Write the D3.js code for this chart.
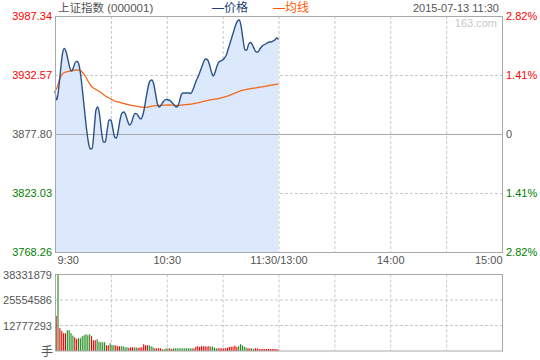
<!DOCTYPE html>
<html><head><meta charset="utf-8">
<script src="https://cdn.jsdelivr.net/npm/d3@7"></script>
<style>
html,body{margin:0;padding:0;background:#fff;}
svg{display:block;}
text{font-family:"Liberation Sans",Arial,"Noto Sans CJK SC",sans-serif;}
</style></head>
<body>
<svg id="chart" width="540" height="360"></svg>
<script>
// ---- data ----
const title = "上证指数 (000001)";
const dateLabel = "2015-07-13 11:30";
const legendNames = ["价格", "均线"];
const prevClose = 3877.80;
const priceTicks = [3987.34, 3932.57, 3877.80, 3823.03, 3768.26];
const pctTicks = ["2.82%", "1.41%", "0", "1.41%", "2.82%"];
const timeTickMinutes = [0, 60, 120, 180, 240];
const timeTickLabels = ["9:30", "10:30", "11:30/13:00", "14:00", "15:00"];
const volTicks = [38331879, 25554586, 12777293];
const volUnit = "手";

// one value per minute from 9:30
const price = [
3917.72,3909.36,3920.50,3937.21,3952.07,3957.17,3953.92,3946.50,3939.07,3936.28,
3940.00,3944.64,3945.10,3940.93,3929.79,3914.01,3897.30,3881.52,3869.45,3863.88,
3864.81,3881.52,3900.08,3902.87,3894.51,3879.66,3870.38,3870.38,3881.52,3890.80,
3890.80,3883.37,3875.02,3874.09,3881.52,3891.73,3897.30,3898.23,3895.44,3889.87,
3886.16,3888.01,3893.58,3896.83,3896.37,3893.58,3891.73,3894.51,3901.94,3912.15,
3921.43,3927.00,3927.93,3924.22,3914.93,3905.65,3902.87,3904.72,3907.51,3909.36,
3909.83,3909.36,3908.44,3906.58,3904.72,3902.87,3903.79,3909.36,3914.93,3915.86,
3915.86,3915.86,3915.86,3915.40,3918.65,3923.29,3927.93,3931.64,3936.28,3940.93,
3945.57,3947.42,3946.50,3941.85,3935.36,3931.64,3935.36,3940.93,3944.64,3945.57,
3946.50,3948.35,3951.14,3956.71,3962.28,3967.85,3973.42,3978.99,3982.70,3983.63,
3977.13,3965.06,3955.78,3955.78,3961.35,3962.74,3960.42,3956.71,3953.92,3953.92,
3956.71,3959.03,3960.42,3961.35,3962.28,3963.20,3963.20,3964.13,3965.06,3966.92,
3965.53];

const avgPrice = [
3917.72,3920.50,3926.07,3930.71,3933.50,3934.89,3935.36,3935.82,3936.28,3936.28,
3936.75,3937.21,3937.21,3937.21,3936.28,3934.43,3932.11,3929.32,3926.07,3923.29,
3921.43,3920.04,3919.11,3918.18,3917.25,3915.86,3914.47,3913.08,3912.15,3911.22,
3910.29,3909.36,3908.44,3907.97,3907.51,3907.04,3906.58,3906.12,3905.65,3905.19,
3904.72,3904.44,3904.17,3903.79,3903.52,3903.24,3902.87,3902.68,3902.59,3902.59,
3902.87,3903.24,3903.61,3903.98,3904.17,3904.26,3904.35,3904.44,3904.54,3904.63,
3904.72,3904.72,3904.72,3904.63,3904.54,3904.35,3904.35,3904.44,3904.63,3904.82,
3905.00,3905.19,3905.37,3905.56,3905.84,3906.12,3906.48,3906.86,3907.23,3907.69,
3908.16,3908.62,3909.09,3909.36,3909.64,3909.92,3910.20,3910.48,3910.85,3911.22,
3911.69,3912.15,3912.71,3913.26,3913.91,3914.56,3915.31,3916.05,3916.79,3917.44,
3918.00,3918.46,3918.83,3919.20,3919.58,3919.85,3920.13,3920.41,3920.69,3920.97,
3921.25,3921.53,3921.80,3922.08,3922.36,3922.73,3923.10,3923.38,3923.66,3923.94,
3924.22];

const volume = [
17650000,38331879,11430000,10090000,8910000,8910000,10420000,10420000,8910000,7730000,
6890000,6050000,6390000,6390000,7400000,7900000,8400000,7900000,8400000,7400000,
5380000,5380000,5900000,4700000,4400000,4400000,4400000,2860000,2860000,3870000,
2860000,2860000,2860000,2350000,2350000,2350000,2350000,1850000,1850000,1510000,
1850000,1850000,1850000,1850000,1510000,1850000,1850000,3360000,2860000,2860000,
2860000,2350000,1850000,1350000,1350000,1350000,1350000,840000,840000,1350000,
1200000,1350000,1000000,1350000,1350000,1350000,1350000,1350000,1350000,1350000,
1350000,1350000,1350000,1350000,1350000,2200000,2400000,2000000,2400000,2400000,
2400000,2200000,2400000,2200000,2200000,1700000,1350000,1350000,1350000,1350000,
1350000,1350000,1600000,2000000,2200000,2200000,2700000,2000000,2400000,3400000,
2900000,2200000,1700000,1350000,1350000,1350000,1000000,1350000,1350000,1000000,
1000000,1000000,1000000,1000000,1000000,1000000,1000000,1000000,1000000,850000];

// r = up minute, g = down minute
const volDir = ("rgrrrrggggrrgggggggrrrgggggrrgggrrrggggrrrggrrrrrrgggrrrrrggg" +
  "rr" + "ggggggggggg" + "rrrrrrrrr" + "gggg" + "rrrrrrrrrrr" + "ggggg" + "rr" + "gg" + "rrrrrrrrrrrrr").split("");

// ---- drawing ----
const svg = d3.select("#chart");
const L = 55, R = 502, T = 16, B = 252, VT = 274.5, VB = 351;
const RED = "#ff0000", GREEN = "#008000", GRAY = "#555555";
const GRID = "#c8c8c8", FRAME = "#a8a8a8";

const x = d3.scaleLinear().domain([0, 240]).range([L, R]);
const y = d3.scaleLinear().domain([priceTicks[4], priceTicks[0]]).range([B, T]);
const yv = d3.scaleLinear().domain([0, volTicks[0]]).range([VB, VT]);

// header
svg.append("text").attr("x", 58).attr("y", 12).attr("font-size", 11.5)
  .attr("fill", GRAY).text(title);
svg.append("text").attr("x", 212).attr("y", 12).attr("font-size", 12)
  .attr("font-family", "Noto Sans CJK SC").attr("fill", "#1f3f78").text("—" + legendNames[0]);
svg.append("text").attr("x", 273).attr("y", 12).attr("font-size", 12)
  .attr("font-family", "Noto Sans CJK SC").attr("fill", "#ff5a00").text("—" + legendNames[1]);
svg.append("text").attr("x", 499).attr("y", 12).attr("font-size", 11)
  .attr("text-anchor", "end").attr("fill", GRAY).text(dateLabel);

// grids (main)
const grid = svg.append("g");
const vMinutes = d3.range(30, 240, 30);
grid.selectAll(".vg").data(vMinutes).join("line")
  .attr("x1", d => x(d) + 0.5).attr("x2", d => x(d) + 0.5)
  .attr("y1", T).attr("y2", B).attr("stroke", GRID).attr("stroke-dasharray", "3,2");
grid.selectAll(".hg").data([priceTicks[1], priceTicks[3]]).join("line")
  .attr("x1", L).attr("x2", R).attr("y1", d => Math.round(y(d)) + 0.5).attr("y2", d => Math.round(y(d)) + 0.5)
  .attr("stroke", GRID).attr("stroke-dasharray", "3,2");

// area + lines
const idx = (d, i) => x(i);
svg.append("path").datum(price)
  .attr("d", d3.area().x(idx).y0(B).y1(d => y(d)).curve(d3.curveMonotoneX))
  .attr("fill", "#dce8fb");
svg.append("line").attr("x1", L).attr("x2", R)
  .attr("y1", Math.round(y(prevClose)) + 0.5).attr("y2", Math.round(y(prevClose)) + 0.5)
  .attr("stroke", FRAME);
svg.append("path").datum(avgPrice)
  .attr("d", d3.line().x(idx).y(d => y(d)).curve(d3.curveMonotoneX))
  .attr("fill", "none").attr("stroke", "#f26a1e").attr("stroke-width", 1.3);
svg.append("path").datum(price)
  .attr("d", d3.line().x(idx).y(d => y(d)).curve(d3.curveMonotoneX))
  .attr("fill", "none").attr("stroke", "#2b5189").attr("stroke-width", 1.4);

svg.append("text").attr("x", 497).attr("y", 27).attr("font-size", 11)
  .attr("text-anchor", "end").attr("fill", "#c8c8c8").text("163.com");

// frame main
svg.append("rect").attr("x", L + 0.5).attr("y", T + 0.5).attr("width", R - L).attr("height", B - T)
  .attr("fill", "none").attr("stroke", FRAME);

// axes (main)
const labColor = i => (i < 2 ? RED : i === 2 ? GRAY : GREEN);
const ax = svg.append("g").attr("transform", `translate(${L},0)`)
  .call(d3.axisLeft(y).tickValues(priceTicks).tickSize(0).tickPadding(3).tickFormat(d3.format(".2f")));
ax.select(".domain").remove();
ax.selectAll("text").attr("font-size", 11).attr("font-family", "Liberation Sans")
  .attr("fill", (d, i) => labColor(i));

const pctScale = d3.scalePoint().domain(d3.range(5)).range([T, B]);
const ar = svg.append("g").attr("transform", `translate(${R},0)`)
  .call(d3.axisRight(pctScale).tickSize(0).tickPadding(4).tickFormat(i => pctTicks[i]));
ar.select(".domain").remove();
ar.selectAll("text").attr("font-size", 11).attr("font-family", "Liberation Sans")
  .attr("fill", (d, i) => labColor(i));

const ab = svg.append("g").attr("transform", `translate(0,${B})`)
  .call(d3.axisBottom(x).tickValues(timeTickMinutes).tickSize(0).tickPadding(4)
    .tickFormat((d, i) => timeTickLabels[i]));
ab.select(".domain").remove();
ab.selectAll("text").attr("font-size", 11).attr("font-family", "Liberation Sans").attr("fill", GRAY)
  .attr("text-anchor", (d, i) => i === 0 ? "start" : i === 4 ? "end" : "middle")
  .attr("dx", (d, i) => i === 0 ? 2 : 0);

// volume panel
const vg = svg.append("g");
vg.selectAll("line.v").data(vMinutes).join("line")
  .attr("x1", d => x(d) + 0.5).attr("x2", d => x(d) + 0.5)
  .attr("y1", VT).attr("y2", VB).attr("stroke", GRID).attr("stroke-dasharray", "3,2");
vg.selectAll("line.h").data(volTicks.slice(1)).join("line")
  .attr("x1", L).attr("x2", R).attr("y1", d => yv(d)).attr("y2", d => yv(d))
  .attr("stroke", GRID).attr("stroke-dasharray", "3,2");
vg.selectAll("rect.bar").data(volume).join("rect")
  .attr("x", (d, i) => x(i) + 0.6).attr("width", 1.1)
  .attr("y", d => yv(d)).attr("height", d => VB - yv(d))
  .attr("fill", (d, i) => volDir[i] === "r" ? "#ee0000" : "#1f8a1f");
svg.append("rect").attr("x", L + 0.5).attr("y", VT).attr("width", R - L).attr("height", VB - VT)
  .attr("fill", "none").attr("stroke", FRAME);

const av = svg.append("g").attr("transform", `translate(${L},0)`)
  .call(d3.axisLeft(yv).tickValues(volTicks).tickSize(0).tickPadding(3).tickFormat(d3.format("d")));
av.select(".domain").remove();
av.selectAll("text").attr("font-size", 11).attr("font-family", "Liberation Sans").attr("fill", GRAY);
svg.append("text").attr("x", 53).attr("y", VB + 5).attr("text-anchor", "end")
  .attr("font-size", 12).attr("font-family", "Noto Sans CJK SC").attr("fill", GRAY).text(volUnit);
</script>
</body></html>
